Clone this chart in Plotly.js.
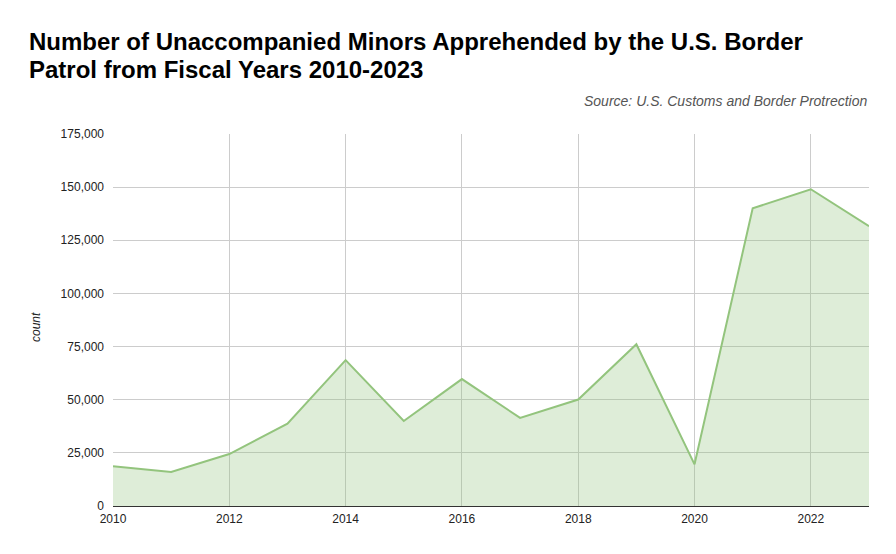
<!DOCTYPE html>
<html>
<head>
<meta charset="utf-8">
<script src="https://cdn.plot.ly/plotly-3.0.1.min.js"></script>
<style>html,body{margin:0;padding:0;background:#fff;}#chart{width:896px;height:554px;}</style>
</head>
<body>
<div id="chart"></div>
<script>
const years = [2010, 2011, 2012, 2013, 2014, 2015, 2016, 2017, 2018, 2019, 2020, 2021, 2022, 2023];
const counts = [18650, 16000, 24450, 38700, 68600, 40000, 59700, 41450, 50100, 76100, 19600, 140050, 149000, 131600];
const yTicks = [0, 25000, 50000, 75000, 100000, 125000, 150000, 175000];
const xTicks = [2010, 2012, 2014, 2016, 2018, 2020, 2022];
const titleLines = ['Number of Unaccompanied Minors Apprehended by the U.S. Border', 'Patrol from Fiscal Years 2010-2023'];
const sourceText = 'Source: U.S. Customs and Border Protrection';
const yTitle = 'count';

const FONT = 'Liberation Sans, Arial, sans-serif';

const trace = {
  x: years,
  y: counts,
  type: 'scatter',
  mode: 'lines',
  fill: 'tozeroy',
  fillcolor: 'rgba(147,196,125,0.3)',
  line: {color: '#93c47d', width: 2},
  hoverinfo: 'x+y'
};

// pixel helpers relative to plot area (l=113, t=134, w=756, h=372)
const px = x => (x - 113) / 756;
const py = y => (506 - y) / 372;

const layout = {
  width: 896,
  height: 554,
  margin: {l: 113, r: 27, t: 134, b: 48},
  paper_bgcolor: '#ffffff',
  plot_bgcolor: '#ffffff',
  showlegend: false,
  font: {family: FONT, color: '#222222', size: 12},
  title: {
    text: '<b>' + titleLines[0] + '</b>',
    x: 29 / 896, xref: 'container', xanchor: 'left',
    y: 1 - 42 / 554, yref: 'container', yanchor: 'middle',
    font: {family: FONT, size: 24, color: '#000000'}
  },
  xaxis: {
    range: [2010, 2023],
    tickvals: xTicks,
    ticktext: xTicks.map(String),
    showgrid: true,
    gridcolor: '#cccccc',
    gridwidth: 1,
    zeroline: false,
    showline: false,
    ticks: '',
    ticklabelstandoff: 4,
    tickfont: {size: 12, color: '#222222'},
    fixedrange: true
  },
  yaxis: {
    range: [0, 175000],
    tickvals: yTicks,
    ticktext: yTicks.map(v => v.toLocaleString('en-US')),
    showgrid: true,
    gridcolor: '#cccccc',
    gridwidth: 1,
    zeroline: true,
    zerolinecolor: '#333333',
    zerolinewidth: 1,
    showline: false,
    ticks: '',
    ticklabelstandoff: 8,
    tickfont: {size: 12, color: '#222222'},
    fixedrange: true
  },
  annotations: [
    {
      text: '<b>' + titleLines[1] + '</b>',
      xref: 'paper', yref: 'paper',
      x: px(27), y: py(70),
      xanchor: 'left', yanchor: 'middle',
      showarrow: false,
      font: {size: 24, color: '#000000', family: FONT}
    },
    {
      text: sourceText,
      xref: 'paper', yref: 'paper',
      x: 1, y: py(101),
      xanchor: 'right', yanchor: 'middle',
      showarrow: false,
      font: {size: 14, color: '#555555', family: FONT, style: 'italic'}
    },
    {
      text: yTitle,
      xref: 'paper', yref: 'paper',
      x: px(36), y: py(327),
      xanchor: 'center', yanchor: 'middle',
      textangle: -90,
      showarrow: false,
      font: {size: 12, color: '#222222', family: FONT, style: 'italic'}
    }
  ]
};

Plotly.newPlot('chart', [trace], layout, {displayModeBar: false, staticPlot: true});
</script>
</body>
</html>
